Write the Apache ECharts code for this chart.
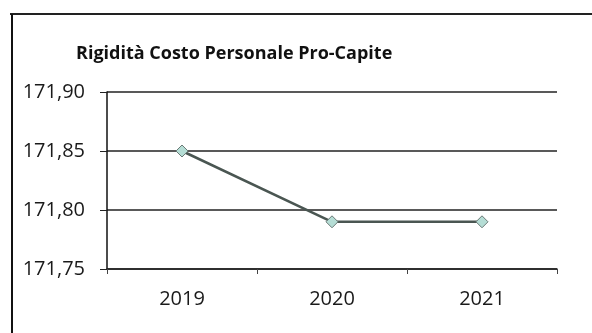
<!DOCTYPE html>
<html lang="it">
<head>
    <meta charset="UTF-8">
    <title>Rigidità Costo Personale Pro-Capite</title>
    <style>
        html, body { margin: 0; padding: 0; background: #fff; }
        #main { width: 592px; height: 333px; }
    </style>
</head>
<body>
    <div id="main"></div>
    <script src="https://cdn.jsdelivr.net/npm/echarts@6/dist/echarts.min.js"></script>
    <script>
        // dati
        const anni = ['2019', '2020', '2021'];
        const valori = [171.85, 171.79, 171.79];
        const yTicks = [171.75, 171.90, 0.05]; // min, max, passo

        const chart = echarts.init(document.getElementById('main'));

        const option = {
            animation: false,
            backgroundColor: '#fff',
            textStyle: { fontFamily: 'Open Sans' },
            title: {
                text: 'Rigidità Costo Personale Pro-Capite',
                left: 71,
                top: 40,
                textStyle: { fontFamily: 'Open Sans', fontSize: 18, fontWeight: 'bold', color: '#111' }
            },
            graphic: [
                { type: 'line', shape: { x1: 10, y1: 14, x2: 592, y2: 14 }, style: { stroke: '#222', lineWidth: 2 } },
                { type: 'line', shape: { x1: 12, y1: 14, x2: 12, y2: 333 }, style: { stroke: '#111', lineWidth: 2 } }
            ],
            grid: { left: 107, right: 35, top: 92, bottom: 64 },
            xAxis: {
                type: 'category',
                data: anni,
                boundaryGap: true,
                axisLine: { lineStyle: { color: '#222', width: 1.5 } },
                axisTick: { show: true, length: 5, lineStyle: { color: '#444' } },
                axisLabel: { fontSize: 20, color: '#1a1a1a', margin: 20 }
            },
            yAxis: {
                type: 'value',
                min: yTicks[0],
                max: yTicks[1],
                interval: yTicks[2],
                axisLine: { show: true, lineStyle: { color: '#111', width: 1.5 } },
                axisTick: { show: true, length: 7, lineStyle: { color: '#222' } },
                splitLine: { lineStyle: { color: '#222', width: 1.5 } },
                axisLabel: {
                    fontSize: 20,
                    color: '#1a1a1a',
                    margin: 22,
                    formatter: v => v.toFixed(2).replace('.', ',')
                }
            },
            series: [{
                type: 'line',
                data: valori,
                symbol: 'diamond',
                symbolSize: 12,
                lineStyle: { color: '#4a5652', width: 2.5 },
                itemStyle: { color: '#b5ddd5', borderColor: '#6a7a76', borderWidth: 1 }
            }]
        };

        chart.setOption(option);
    </script>
</body>
</html>
